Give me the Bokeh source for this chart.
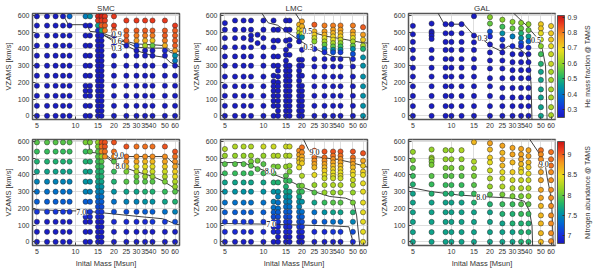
import math
from bokeh.plotting import figure
from bokeh.models import (ColumnDataSource, LinearColorMapper, ColorBar, FixedTicker,
                          Range1d, CustomJSTickFormatter, LabelSet)
from bokeh.core.properties import value
from bokeh.layouts import column, row
from bokeh.embed import file_html
from bokeh.resources import INLINE

# ---------------- data ----------------
CODES = "0123456789abcdefghijklmnop"
HE_LEVELS = [0.26, 0.29, 0.32, 0.35, 0.38, 0.41, 0.44, 0.47, 0.50, 0.53, 0.56, 0.59,
             0.62, 0.65, 0.68, 0.71, 0.74, 0.77, 0.80, 0.83, 0.86, 0.89, 0.92]
N_LEVELS = [6.85, 6.95, 7.05, 7.15, 7.25, 7.35, 7.45, 7.55, 7.65, 7.75, 7.85, 7.95,
            8.05, 8.15, 8.25, 8.35, 8.45, 8.55, 8.65, 8.75, 8.85, 8.95, 9.05, 9.15, 9.25]

X_TICKS = [5, 10, 15, 20, 25, 30, 35, 40, 50, 60]
Y_TICKS = [0, 100, 200, 300, 400, 500, 600]
HE_TICKS = [0.3, 0.4, 0.5, 0.6, 0.7, 0.8, 0.9]
N_TICKS = [7, 7.5, 8, 8.5, 9]

# ---- SMC ----
SMC_MASS = [5, 6, 7, 8, 9, 12, 13, 15, 16, 17, 20, 25, 30, 35, 40, 50, 60]
SMC_VROT = [
    [595, 540, 480, 420, 360, 300, 240, 180, 120, 60, 0],
    [595, 540, 480, 420, 360, 300, 240, 180, 120, 60, 0],
    [595, 540, 480, 420, 360, 300, 240, 180, 120, 60, 0],
    [595, 540, 480, 420, 360, 300, 240, 180, 120, 60, 0],
    [595, 540, 480, 420, 360, 300, 240, 180, 120, 60, 0],
    [595, 540, 480, 420, 360, 300, 240, 180, 150, 120, 60, 0],
    [595, 540, 480, 420, 360, 300, 240, 180, 150, 120, 60, 0],
    [595, 570, 540, 510, 480, 450, 420, 390, 360, 330, 300, 270, 240, 210, 180, 150, 120, 90, 60, 30, 0],
    [595, 570, 540, 510, 480, 450, 420, 390, 360, 330, 300, 270, 240, 210, 180, 150, 120, 90, 60, 30, 0],
    [595, 570, 540, 510],
    [595, 540, 510, 480, 420, 360, 300, 240, 180, 120, 60, 0],
    [570, 510, 480, 450, 420, 360, 300, 240, 180, 120, 60, 0],
    [570, 510, 480, 450, 420, 390, 360, 300, 240, 180, 120, 60, 0],
    [570, 510, 480, 450, 420, 390, 360, 300, 240, 180, 120, 60, 0],
    [570, 510, 480, 450, 420, 390, 360, 300, 240, 180, 120, 60, 0],
    [570, 510, 480, 450, 420, 390, 360, 300, 240, 180, 120, 60, 0],
    [540, 510, 480, 450, 420, 390, 360, 330, 300, 240, 180, 120, 60, 0],
]
SMC_HE = ["00000000000", "00000000000", "00000000000", "00000000000", "40000000000",
          "500000000000", "600000000000",
          "lk7100000000000000000", "lkj810000000000000000", "kkji",
          "kkj000000000", "kjjj00000000", "kjih200000000", "kjigc00000000",
          "kjifa00000000", "kjjig10000000", "kjjjjh65000000"]
SMC_N = ["ba986542000", "ba986542000", "ba986542000", "ba986542000", "ba986542000",
         "ca9876421000", "cb9876421000",
         "dcbbaa998765432100000", "mlkdba998765432100000", "mmlk",
         "mlkba9753100", "mlkhcb863100", "lkjgecb863100", "lkigfdb974100",
         "lkigfdb974200", "mkjhfeca85200", "mlkjhgedb96300"]

# ---- LMC ----
LMC_MASS = [5, 6, 7, 8, 9, 10, 12, 13, 15, 16, 19, 20, 25, 30, 35, 40, 50, 60]
LMC_VROT = [
    [555, 515, 465, 410, 355, 300, 235, 177, 120, 60, 0],
    [570, 515, 465, 410, 355, 300, 235, 177, 120, 60, 0],
    [570, 515, 465, 410, 355, 300, 235, 177, 120, 60, 0],
    [570, 515, 480, 455, 410, 355, 300, 235, 177, 120, 60, 0],
    [485, 435],
    [570, 515, 465, 410, 355, 300, 235, 177, 120, 60, 0],
    [570, 515, 450, 410, 355, 300, 240, 205, 177, 150, 120, 90, 60, 0],
    [515, 450, 355, 300, 270, 235, 200, 177, 150, 120, 90, 60, 30, 0],
    [570, 515, 450, 395, 365, 330, 300, 270, 240, 210, 180, 150, 120, 90, 60, 30, 0],
    [570, 515, 455, 420, 365, 300, 270, 240, 210, 180, 150, 120, 90, 60, 30, 0],
    [545, 520, 495, 475, 445, 335, 300, 270, 240, 210, 180, 150, 120, 90, 60, 30, 0],
    [565, 535, 510, 490, 470, 395, 335, 300, 240, 180, 150, 120, 90, 60, 30, 0],
    [545, 505, 485, 465, 445, 400, 340, 295, 235, 177, 120, 60, 0],
    [540, 505, 485, 465, 445, 425, 400, 380, 340, 295, 235, 177, 120, 60, 0],
    [540, 515, 495, 475, 455, 435, 415, 395, 380, 340, 295, 235, 177, 120, 60, 0],
    [540, 515, 495, 475, 455, 435, 415, 395, 380, 340, 295, 235, 177, 120, 60, 0],
    [540, 505, 485, 465, 445, 420, 400, 370, 340, 295, 235, 177, 120, 60, 0],
    [530, 485, 455, 420, 400, 350, 300, 235, 177, 120, 60, 0],
]
LMC_HE = ["00000000000", "00000000000", "00000000000", "000000000000", "00",
          "00000000000", "00000000000000", "00000000000000",
          "00000000000000000", "0000000000000000",
          "gec30000000000000", "hgfc600000000000", "jgfdb10000000",
          "ihgeca510000000", "ihgfeca630000000", "ihgfdb9620000000",
          "ihgeca631000000", "jhfc86666666"]
LMC_N = ["edba8754210", "edba8754210", "edba8754210", "edcba8754210", "cb",
         "fdba8754210", "fecb9765432110", "ec976554321100",
         "fedba987654321100", "fedca87654321100",
         "kjihgba8765432100", "lkjiheca75432100", "mlkjigdb85310",
         "mlkjihgfeda7410", "mlkjihggfedb8520", "mlkjihggfedb8520",
         "mlkjihgfedc9631", "mjhhgggggggg"]

# ---- GAL ----
GAL_MASS = [5, 7, 9, 10, 12, 15, 20, 25, 30, 35, 40, 50, 60]
GAL_VROT = [
    [538, 488, 442, 394, 344, 288, 235, 177, 119, 58, 0],
    [552, 504, 494, 479, 460, 394, 344, 288, 235, 177, 119, 58, 0],
    [548, 494, 442, 394, 340, 288, 235, 177, 119, 58, 0],
    [548, 494, 442, 394, 340, 288, 235, 177, 119, 58, 0],
    [548, 494, 442, 394, 340, 288, 235, 177, 119, 58, 0],
    [596, 480, 440, 394, 340, 288, 235, 177, 119, 58, 0],
    [590, 552, 504, 475, 427, 379, 331, 283, 225, 177, 119, 58, 0],
    [575, 533, 494, 456, 417, 379, 331, 283, 225, 167, 110, 58, 0],
    [562, 523, 475, 417, 369, 321, 273, 225, 167, 110, 58, 0],
    [556, 523, 494, 465, 437, 417, 369, 321, 273, 225, 167, 110, 58, 0],
    [548, 513, 475, 446, 408, 369, 321, 273, 225, 167, 110, 58, 0],
    [548, 523, 494, 456, 417, 369, 311, 263, 215, 158, 110, 52, 0],
    [537, 494, 456, 417, 369, 311, 263, 215, 158, 110, 52, 4],
]
GAL_HE = ["00000000000", "0000000000000", "00000000000", "00000000000",
          "00000000000", "00000000000", "ba31000000000", "b962000000000",
          "ba5100000000", "ba863100000000", "ba74100000000",
          "ffedb98777777", "fffeddcccccc"]
GAL_N = ["dcba9888888", "dddccba988888", "ddcba988888", "ddcba988888",
         "edcba988888", "iedcba98888", "jihgfedb98888", "jijigfeca9888",
         "jjihfeca9988", "jjjihgfecba999", "jjihgfedba999",
         "lkkjjjjjiiiii", "lllkkkkkkkkk"]

# ---- contour lines (mass, velocity) and their labels ----
SMC_HE_CM = [[7.9, 8.8, 12.3, 13.0, 15.5, 20, 25, 30, 40, 50, 55, 66],
             [15.5, 17, 20, 25, 30, 40, 50, 55, 66],
             [16, 20, 25, 30, 40, 50, 55, 66]]
SMC_HE_CV = [[615, 545, 545, 505, 500, 470, 445, 430, 425, 420, 390, 385],
             [500, 480, 455, 440, 410, 405, 405, 380, 360],
             [490, 445, 420, 390, 360, 350, 320, 290]]
SMC_HE_LM, SMC_HE_LV, SMC_HE_LT = [21, 21, 21], [492, 447, 405], ["0.9", "0.6", "0.3"]

LMC_HE_CM = [[9.7, 10.9, 12.9, 15.8, 18.7, 21.5, 29.3, 34.4, 41.1, 47, 48.5, 49],
             [17.7, 19.7, 21.5, 25.6, 31.4, 41.1, 60, 66]]
LMC_HE_CV = [[615, 556, 542, 494, 456, 427, 379, 356, 350, 350, 302, -30],
             [615, 562, 513, 494, 475, 460, 437, 435]]
LMC_HE_LM, LMC_HE_LV, LMC_HE_LT = [22, 22.5], [505, 410], ["0.5", "0.3"]

GAL_HE_CM = [[7.85, 8.8, 12.5, 14.8, 17.1, 20.3, 24.2, 27.9, 34.2, 38.4, 40.7, 41.9, 42.6],
             [30.5, 38.4, 45.7, 51.3, 54.3, 54.9, 55.9]]
GAL_HE_CV = [[615, 548, 548, 485, 465, 417, 388, 417, 398, 369, 302, 187, -30],
             [615, 542, 475, 398, 302, 187, -30]]
GAL_HE_LM, GAL_HE_LV, GAL_HE_LT = [17.5, 45.7], [465, 456], ["0.3", "0.5"]

SMC_N_CM = [[4.5, 12.3, 16.5, 32.6, 48, 61, 66],
            [12.7, 12.9, 16.5, 19.6, 26, 51, 58, 66],
            [16.5, 20.1, 22.6, 29.1, 39, 48, 55, 66]]
SMC_N_CV = [[192, 183, 173, 150, 138, 106, 100],
            [615, 535, 529, 490, 510, 510, 471, 462],
            [519, 471, 452, 423, 394, 365, 337, 298]]
SMC_N_LM, SMC_N_LV, SMC_N_LT = [11.1, 21.9, 22.5], [177, 519, 452], ["7.0", "9.0", "8.0"]

LMC_N_CM = [[4.5, 10, 20, 35, 46.5, 49.2, 49.5],
            [4.5, 6.9, 10.3, 15.8, 19.8, 24.9, 33, 43.9, 50.6, 53.5, 56.7],
            [20.5, 22.5, 25, 29.5, 37.9, 49, 66]]
LMC_N_CV = [[110, 106, 100, 95, 90, 20, -30],
            [474, 474, 425, 367, 329, 300, 271, 261, 242, 155, -30],
            [615, 551, 512, 503, 493, 474, 445]]
LMC_N_LM, LMC_N_LV, LMC_N_LT = [11.5, 11.2, 25], [106, 425, 535], ["7.0", "8.0", "9.0"]

GAL_N_CM = [[4.5, 7, 11.4, 17.1, 30.5, 37.2, 40.7, 42.6, 43.1],
            [40.7, 47.2, 54, 55.9, 59.2, 61, 62.5]]
GAL_N_CV = [[329, 300, 280, 271, 261, 242, 184, 97, -30],
            [615, 542, 464, 387, 290, 193, -30]]
GAL_N_LM, GAL_N_LV, GAL_N_LT = [17.1, 52.7], [271, 464], ["8.0", "9.0"]

CB_TITLES = ["He mass fraction @ TAMS", "Nitrogen abundance @ TAMS"]

# ---------------- style ----------------
FONT = "Liberation Sans"
FW, FH = 147, 106
TITLE_H = 12
ANCH = [(0.00, (25, 25, 190)), (0.08, (25, 45, 220)), (0.20, (0, 105, 210)),
        (0.30, (0, 150, 160)), (0.40, (40, 185, 100)), (0.52, (140, 210, 40)),
        (0.66, (235, 220, 30)), (0.80, (245, 150, 30)), (0.92, (235, 60, 30)),
        (1.00, (200, 20, 20))]


def make_palette(n=256):
    pal = []
    for i in range(n):
        t = i / (n - 1)
        c = ANCH[-1][1]
        for (t0, c0), (t1, c1) in zip(ANCH[:-1], ANCH[1:]):
            if t0 <= t <= t1:
                f = (t - t0) / (t1 - t0)
                c = [round(a + (b - a) * f) for a, b in zip(c0, c1)]
                break
        pal.append('#%02x%02x%02x' % tuple(c))
    return pal


PAL = make_palette()
HE_MAP = LinearColorMapper(palette=PAL, low=0.25, high=0.91)
N_MAP = LinearColorMapper(palette=PAL, low=6.8, high=9.33)


def panel(title, masses, vrot, codes, levels, mapper, cms, cvs, lm, lv, lt, top, last):
    kw = dict(frame_width=FW, frame_height=FH, x_axis_type="log",
              x_range=Range1d(4.62, 65), y_range=Range1d(-22, 612),
              output_backend="svg", toolbar_location=None, min_border=0,
              min_border_right=(3 if last else 9), min_border_top=(0 if top else 9),
              background_fill_color="white", border_fill_color="white")
    if top:
        kw["title"] = title
    p = figure(**kw)
    if top:
        p.title.text_font = FONT
        p.title.text_font_size = "8px"
        p.title.text_font_style = "normal"
        p.title.align = "center"
        p.title.text_color = "#333333"
        p.title.standoff = 2
    xs, ys, vals = [], [], []
    for m, vs, cs in zip(masses, vrot, codes):
        for v, c in zip(vs, cs):
            xs.append(m)
            ys.append(v)
            vals.append(levels[CODES.index(c)])
    for cm, cv in zip(cms, cvs):
        p.line(cm, cv, line_color="#2b2b2b", line_width=0.9)
    src = ColumnDataSource(dict(x=lm, y=lv, t=lt))
    p.add_layout(LabelSet(x="x", y="y", text="t", source=src, text_font=FONT,
                          text_font_size="8px", text_color="black",
                          text_align="center", text_baseline="middle",
                          background_fill_color="white"))
    src2 = ColumnDataSource(dict(x=xs, y=ys, val=vals))
    p.scatter("x", "y", source=src2, size=5.2,
              fill_color={"field": "val", "transform": mapper},
              line_color="#2a2a2a", line_width=0.5)
    p.xaxis.ticker = FixedTicker(ticks=X_TICKS)
    p.xaxis.formatter = CustomJSTickFormatter(code="return String(Math.round(tick));")
    p.yaxis.ticker = FixedTicker(ticks=Y_TICKS)
    p.xgrid.ticker = FixedTicker(ticks=X_TICKS)
    p.grid.grid_line_color = "#d6d6d6"
    p.grid.grid_line_width = 0.8
    p.outline_line_color = "#555555"
    p.outline_line_width = 1.5
    for ax in (p.xaxis[0], p.yaxis[0]):
        ax.axis_line_color = None
        ax.major_tick_in = 3
        ax.major_tick_out = 0
        ax.major_tick_line_color = "#444444"
        ax.minor_tick_line_color = None
        ax.major_label_text_font = FONT
        ax.major_label_text_font_size = "7px"
        ax.major_label_text_color = "#333333"
        ax.major_label_standoff = 3
        ax.axis_label_text_font = FONT
        ax.axis_label_text_font_size = "7.5px"
        ax.axis_label_text_font_style = "normal"
        ax.axis_label_text_color = "#333333"
        ax.axis_label_standoff = 2
    p.yaxis.axis_label = "VZAMS [km/s]"
    if not top:
        p.xaxis.axis_label = "Inital Mass [Msun]"
    return p


def add_cbar(p, mapper, ticks):
    cb = ColorBar(color_mapper=mapper, ticker=FixedTicker(ticks=ticks), width=7,
                  padding=2, margin=0, label_standoff=3,
                  major_label_text_font=FONT, major_label_text_font_size="7px",
                  major_label_text_color="#333333", major_tick_line_color="#333333",
                  major_tick_in=2, bar_line_color="#555555", title=None)
    p.add_layout(cb, "right")


def cbar_title(label, top_border):
    q = figure(frame_width=11, frame_height=FH, min_border=0, min_border_top=top_border,
               x_range=Range1d(0, 1), y_range=Range1d(0, 1), output_backend="svg",
               toolbar_location=None, outline_line_color=None,
               background_fill_color="white", border_fill_color="white")
    q.axis.visible = False
    q.grid.visible = False
    q.text(x=[0.45], y=[0.5], text=[label], angle=math.pi / 2, text_align="center",
           text_baseline="middle", text_font=value(FONT), text_font_size=value("7px"),
           text_color="#333333")
    return q


f1 = panel("SMC", SMC_MASS, SMC_VROT, SMC_HE, HE_LEVELS, HE_MAP, SMC_HE_CM, SMC_HE_CV,
           SMC_HE_LM, SMC_HE_LV, SMC_HE_LT, True, False)
f2 = panel("LMC", LMC_MASS, LMC_VROT, LMC_HE, HE_LEVELS, HE_MAP, LMC_HE_CM, LMC_HE_CV,
           LMC_HE_LM, LMC_HE_LV, LMC_HE_LT, True, False)
f3 = panel("GAL", GAL_MASS, GAL_VROT, GAL_HE, HE_LEVELS, HE_MAP, GAL_HE_CM, GAL_HE_CV,
           GAL_HE_LM, GAL_HE_LV, GAL_HE_LT, True, True)
f4 = panel("SMC", SMC_MASS, SMC_VROT, SMC_N, N_LEVELS, N_MAP, SMC_N_CM, SMC_N_CV,
           SMC_N_LM, SMC_N_LV, SMC_N_LT, False, False)
f5 = panel("LMC", LMC_MASS, LMC_VROT, LMC_N, N_LEVELS, N_MAP, LMC_N_CM, LMC_N_CV,
           LMC_N_LM, LMC_N_LV, LMC_N_LT, False, False)
f6 = panel("GAL", GAL_MASS, GAL_VROT, GAL_N, N_LEVELS, N_MAP, GAL_N_CM, GAL_N_CV,
           GAL_N_LM, GAL_N_LV, GAL_N_LT, False, True)
add_cbar(f3, HE_MAP, HE_TICKS)
add_cbar(f6, N_MAP, N_TICKS)
t1 = cbar_title(CB_TITLES[0], TITLE_H)
t2 = cbar_title(CB_TITLES[1], 9)

p = column(row(f1, f2, f3, t1, spacing=0), row(f4, f5, f6, t2, spacing=0), spacing=0)
open("out.html", "w").write(file_html(p, INLINE))
